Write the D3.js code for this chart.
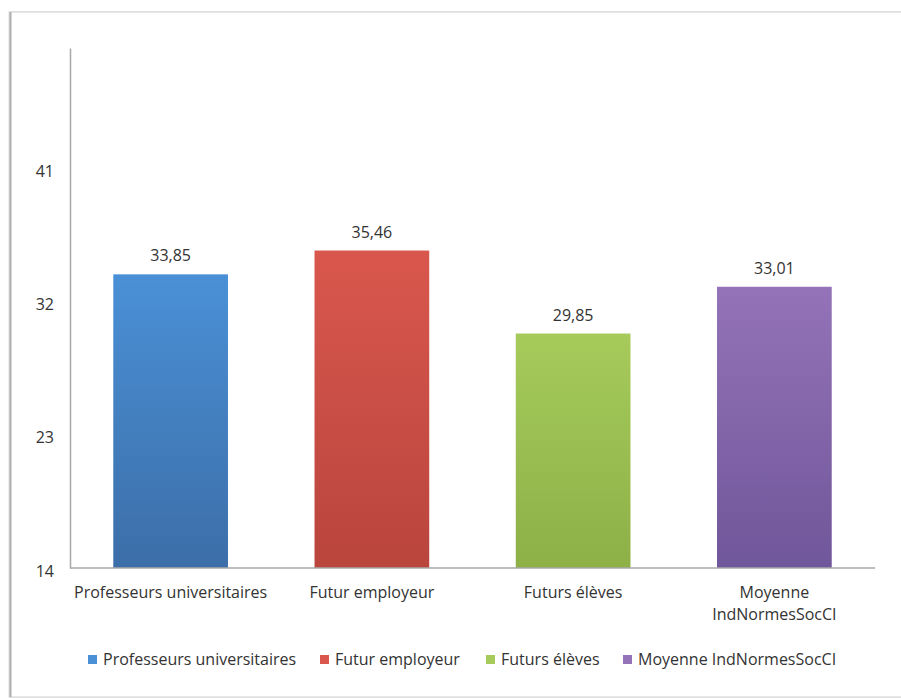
<!DOCTYPE html>
<html><head><meta charset="utf-8">
<script src="https://cdn.jsdelivr.net/npm/d3@7"></script>
<style>
html,body{margin:0;padding:0;background:#fff;overflow:hidden;}
svg{display:block;font-family:"Open Sans","Liberation Sans",sans-serif;}
</style></head>
<body>
<svg id="chart" width="901" height="698"></svg>
<script>
const categories = ["Professeurs universitaires", "Futur employeur", "Futurs élèves", "Moyenne IndNormesSocCI"];
const categoryLines = [["Professeurs universitaires"], ["Futur employeur"], ["Futurs élèves"], ["Moyenne", "IndNormesSocCI"]];
const values = [33.85, 35.46, 29.85, 33.01];
const valueLabels = ["33,85", "35,46", "29,85", "33,01"];
const yTicks = [14, 23, 32, 41];
const colorsTop = ["#4a90d6", "#d9574d", "#a6cb5b", "#9473b8"];
const colorsBottom = ["#3c6ea8", "#b9453d", "#8db047", "#70569a"];

(function () {
const svg = d3.select("#chart");
const FS = 16;

// frame with shadow
svg.append("rect").attr("x", 8).attr("y", 11).attr("width", 1000).attr("height", 690)
  .attr("fill", "#eeeeee");
svg.append("rect").attr("x", 10).attr("y", 12).attr("width", 1000).attr("height", 685)
  .attr("fill", "#fff").attr("stroke", "#d0d0d0").attr("stroke-width", 1);
svg.append("line").attr("x1", 10.5).attr("x2", 10.5).attr("y1", 12).attr("y2", 697)
  .attr("stroke", "#b0b0b0").attr("stroke-width", 2);

const mLeft = 70, mRight = 875, mTop = 48, mBottom = 568;
const x = d3.scaleBand().domain(categories).range([mLeft, mRight]).paddingInner(0.43).paddingOuter(0.215);
const y = d3.scaleLinear().domain([14, 49.15]).range([mBottom, mTop]);

const defs = svg.append("defs");
categories.forEach((c, i) => {
  const g = defs.append("linearGradient").attr("id", "g" + i)
    .attr("x1", 0).attr("x2", 0).attr("y1", 0).attr("y2", 1);
  g.append("stop").attr("offset", "0%").attr("stop-color", colorsTop[i]);
  g.append("stop").attr("offset", "100%").attr("stop-color", colorsBottom[i]);
});

// bars
svg.append("g").selectAll("rect").data(values).join("rect")
  .attr("x", (d, i) => x(categories[i]))
  .attr("width", x.bandwidth())
  .attr("y", d => y(d))
  .attr("height", d => y(14) - y(d))
  .attr("fill", (d, i) => `url(#g${i})`);

// value labels
svg.append("g").selectAll("text").data(values).join("text")
  .attr("x", (d, i) => x(categories[i]) + x.bandwidth() / 2)
  .attr("y", d => y(d) - 13)
  .attr("text-anchor", "middle")
  .attr("font-size", FS).attr("fill", "#333")
  .text((d, i) => valueLabels[i]);

// y axis
const yAxis = d3.axisLeft(y).tickValues(yTicks).tickSize(0).tickPadding(16);
const gy = svg.append("g").attr("transform", `translate(${mLeft},0)`).call(yAxis);
gy.select(".domain").attr("stroke", "#a8a8a8").attr("stroke-width", 1.5);
gy.selectAll("text").attr("font-size", FS).attr("fill", "#333").attr("dy", "0.5em")
  .attr("font-family", "'Open Sans','Liberation Sans',sans-serif");

// x axis line
svg.append("line").attr("x1", mLeft).attr("x2", mRight).attr("y1", mBottom).attr("y2", mBottom)
  .attr("stroke", "#a8a8a8").attr("stroke-width", 1.5);

// category labels
const cl = svg.append("g").selectAll("text").data(categories).join("text")
  .attr("x", c => x(c) + x.bandwidth() / 2)
  .attr("y", 598)
  .attr("text-anchor", "middle")
  .attr("font-size", FS).attr("fill", "#333");
cl.each(function(c, i) {
  d3.select(this).selectAll("tspan").data(categoryLines[i]).join("tspan")
    .attr("x", x(c) + x.bandwidth() / 2)
    .attr("dy", (d, j) => j === 0 ? 0 : 22)
    .text(d => d);
});

// legend
const legendX = [88, 320, 486, 623];
const lg = svg.append("g").selectAll("g").data(categories).join("g")
  .attr("transform", (d, i) => `translate(${legendX[i]},655)`);
lg.append("rect").attr("width", 9).attr("height", 9).attr("fill", (d, i) => colorsTop[i]);
lg.append("text").attr("x", 15).attr("y", 10).attr("font-size", FS).attr("fill", "#333").text(d => d);
})();
</script>
</body></html>
